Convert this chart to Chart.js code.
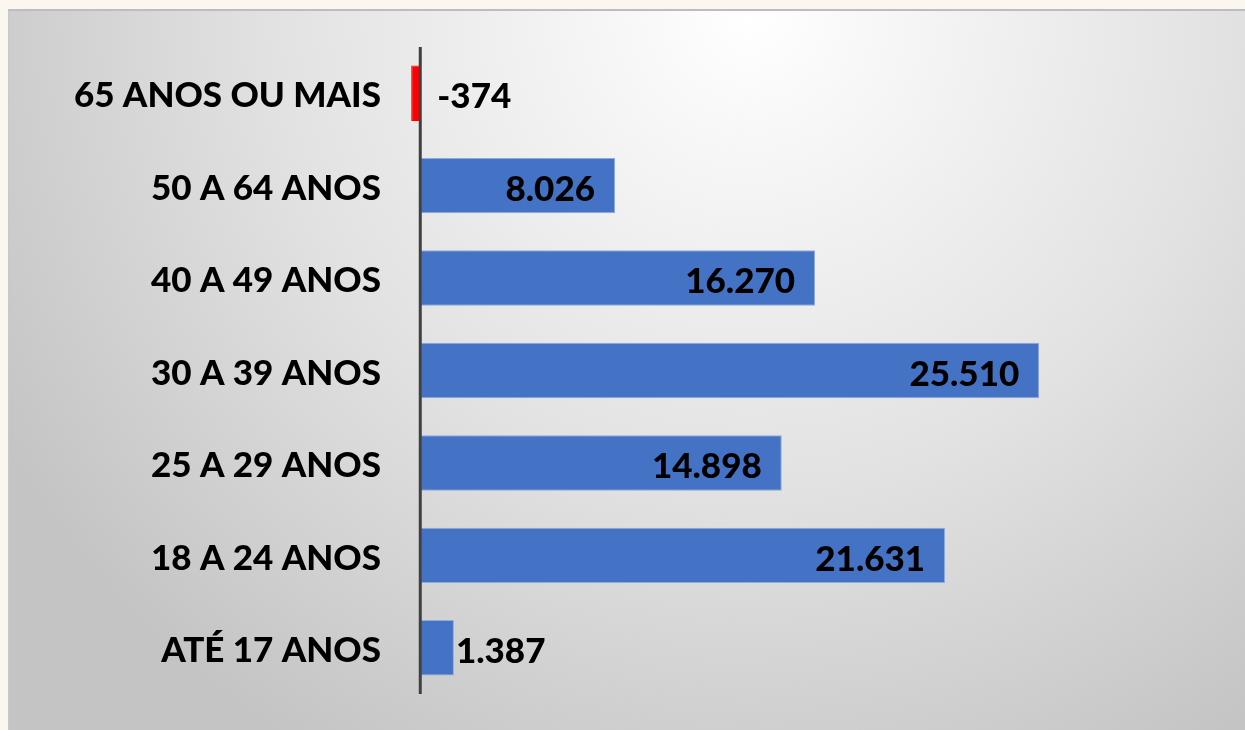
<!DOCTYPE html>
<html lang="pt">
<head>
  <meta charset="UTF-8" />
  <title>Saldo por faixa etária</title>
  <script src="https://cdn.jsdelivr.net/npm/chart.js"></script>
  <style>
    html, body { margin: 0; padding: 0; }
    body {
      width: 1245px; height: 730px; overflow: hidden;
      background: #fbf6f0;
      position: relative;
    }
    #panel {
      position: absolute; left: 8px; top: 9px; right: 0; bottom: 0;
      border-top: 2px solid #bdbdbd;
      border-left: 1px solid #c8c8c8;
      background: radial-gradient(ellipse 70% 120% at 60% 0%, #ffffff 0%, #e2e2e2 55%, #c4c4c4 100%);
    }
    #wrap { position: absolute; left: 0; top: 0; width: 1245px; height: 730px; }
  </style>
</head>
<body>
  <div id="panel"></div>
  <div id="wrap"><canvas id="barChart"></canvas></div>

  <script>
    const categories = ['65 ANOS OU MAIS', '50 A 64 ANOS', '40 A 49 ANOS', '30 A 39 ANOS', '25 A 29 ANOS', '18 A 24 ANOS', 'ATÉ 17 ANOS'];
    const values = [-374, 8026, 16270, 25510, 14898, 21631, 1387];
    const valueLabels = ['-374', '8.026', '16.270', '25.510', '14.898', '21.631', '1.387'];

    const labelFont = '900 35px Lato';

    // linha vertical no zero
    const zeroLine = {
      id: 'zeroLine',
      afterDatasetsDraw(chart) {
        const { ctx, chartArea, scales } = chart;
        const x = scales.x.getPixelForValue(0);
        ctx.save();
        ctx.strokeStyle = '#404040';
        ctx.lineWidth = 3;
        ctx.beginPath();
        ctx.moveTo(x, chartArea.top);
        ctx.lineTo(x, chartArea.bottom);
        ctx.stroke();
        ctx.restore();
      }
    };

    // rótulos de valor
    const valueText = {
      id: 'valueText',
      afterDraw(chart) {
        const { ctx, scales } = chart;
        const meta = chart.getDatasetMeta(0);
        const zero = scales.x.getPixelForValue(0);
        ctx.save();
        ctx.font = labelFont;
        ctx.fillStyle = '#000000';
        ctx.textBaseline = 'middle';
        meta.data.forEach((bar, i) => {
          const v = values[i];
          const y = bar.y + 4;
          if (v < 0) {
            ctx.textAlign = 'left';
            ctx.fillText(valueLabels[i], zero + 17, y);
          } else if (bar.x - zero < 120) {
            ctx.textAlign = 'left';
            ctx.fillText(valueLabels[i], bar.x + 2, y);
          } else {
            ctx.textAlign = 'right';
            ctx.fillText(valueLabels[i], bar.x - 20, y);
          }
        });
        ctx.restore();
      }
    };

    new Chart(document.getElementById('barChart'), {
      type: 'bar',
      data: {
        labels: categories,
        datasets: [{
          data: values,
          backgroundColor: values.map(v => v < 0 ? '#ff0000' : '#4472c4'),
          borderColor: values.map(v => v < 0 ? '#ff0000' : '#8faadc'),
          borderWidth: 1,
          borderSkipped: false,
          barPercentage: 0.6,
          categoryPercentage: 1
        }]
      },
      options: {
        indexAxis: 'y',
        responsive: true,
        maintainAspectRatio: false,
        animation: false,
        layout: { padding: { left: 0, right: 24, top: 47, bottom: 29 } },
        plugins: { legend: { display: false }, tooltip: { enabled: false } },
        scales: {
          x: {
            display: false,
            min: -1000,
            max: 33000
          },
          y: {
            afterFit(scale) { scale.width = 396; },
            grid: { display: false, drawTicks: false },
            border: { display: false },
            ticks: {
              padding: 15,
              labelOffset: 3,
              color: '#000000',
              font: { family: 'Lato', size: 35, weight: '900' }
            }
          }
        }
      },
      plugins: [zeroLine, valueText]
    });
  </script>
</body>
</html>
